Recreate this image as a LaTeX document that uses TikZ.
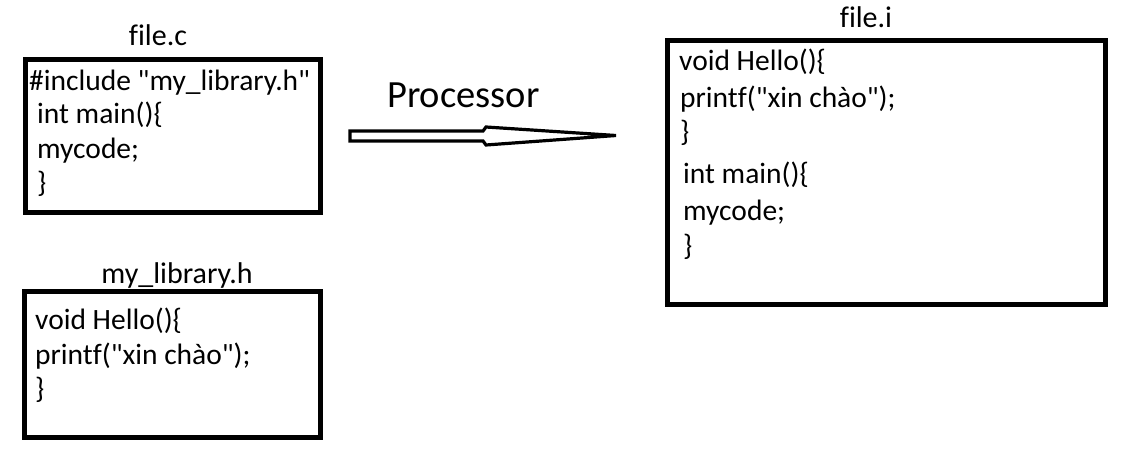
\documentclass[tikz,border=0pt]{standalone}
\usepackage{fontspec}
\setmainfont{Carlito}[Ligatures={TeXOff,NoCommon}]
\begin{document}
\begin{tikzpicture}[x=1pt,y=-1pt,
  box/.style={draw=black,line width=5pt},
  code/.style={anchor=base west,inner sep=0pt,font=\fontsize{29.5}{34}\selectfont},
  title/.style={anchor=base,inner sep=0pt,font=\fontsize{30}{34}\selectfont},
  arrowshape/.style={draw=black,fill=white,line width=3.2pt,line join=miter}]
\useasboundingbox[fill=white] (0,0) rectangle (1137,458);
% file.c
\draw[box] (25.5,59.5) rectangle (320.5,212.5);
\node[title] (tc) at (158,45) {file.c};
\node[code] (c1) at (29,90) {\#include "my\_library.h"};
\node[code] (c2) at (37,123) {int main()\{};
\node[code] (c3) at (37,158) {mycode;};
\node[code] (c4) at (37,192) {\}};
% my_library.h
\draw[box] (24.5,291.5) rectangle (320.5,437.5);
\node[title] (th) at (177,283) {my\_library.h};
\node[code] (h1) at (35,329) {void Hello()\{};
\node[code] (h2) at (35,364) {printf("xin chào");};
\node[code] (h3) at (35,398) {\}};
% file.i
\draw[box] (667.5,40.5) rectangle (1105.5,304.5);
\node[title] (ti) at (866,27) {file.i};
\node[code] (i1) at (679,70) {void Hello()\{};
\node[code] (i2) at (680,107) {printf("xin chào");};
\node[code] (i3) at (680,141) {\}};
\node[code] (i4) at (683,183) {int main()\{};
\node[code] (i5) at (683,220) {mycode;};
\node[code] (i6) at (683,255) {\}};
% arrow
\node[anchor=base west,inner sep=0pt,font=\fontsize{38.5}{44}\selectfont] (proc) at (387,107) {Processor};
\draw[arrowshape] (350,131) -- (483,131) -- (486,127) -- (616,135.5) -- (486,145) -- (483,141) -- (350,141) -- cycle;
\end{tikzpicture}
\end{document}
